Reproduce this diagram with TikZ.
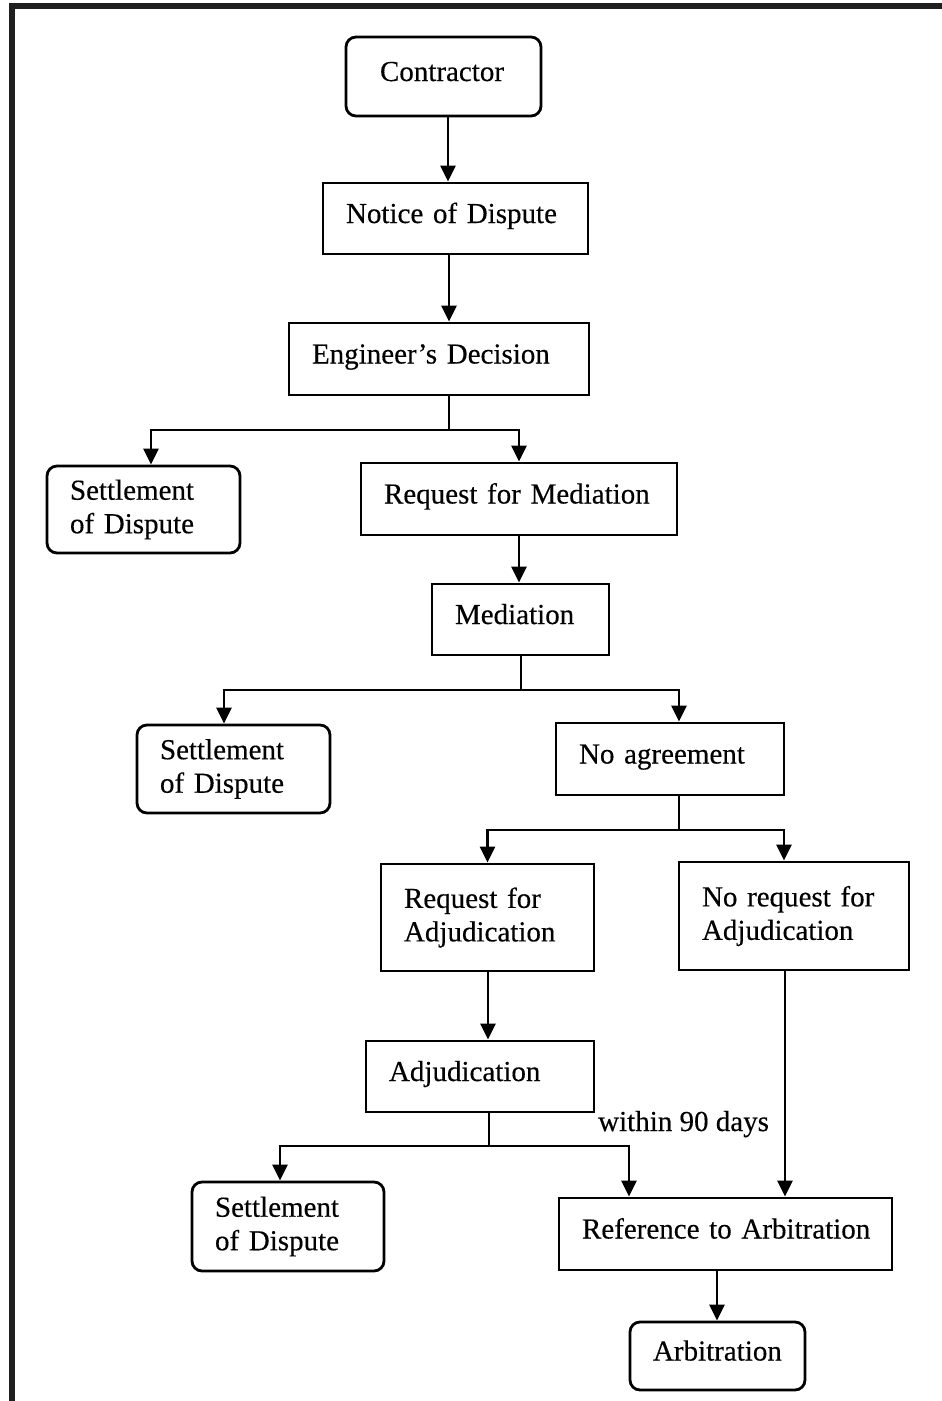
\documentclass[tikz,border=0pt]{standalone}
\usepackage{fontspec}
\setmainfont{Liberation Serif}
\newfontfamily\scanfont{Liberation Serif}[FakeBold=0.35]
\usetikzlibrary{arrows.meta}
\begin{document}
\begin{tikzpicture}[x=1pt,y=-1pt,
  box/.style={draw=black, line width=2.8pt, inner ysep=0pt, inner xsep=23pt, align=left, font=\scanfont\fontsize{29}{33.5}\selectfont},
  one/.style={text height=19pt, text depth=10pt},
  rbox/.style={box, rounded corners=10pt},
  ln/.style={line width=2.8pt},
  arr/.style={line width=2.8pt, -{Triangle[length=16pt,width=15pt]}},
  lbl/.style={font=\scanfont\fontsize{29}{33.5}\selectfont, inner sep=0pt}
]
\useasboundingbox (0,0) rectangle (942,1401);
\fill[black!88] (9,3) rectangle (942,9);
\fill[black!88] (9,3) rectangle (15,1401);

\node[rbox, one, inner xsep=34pt, text width=127pt, minimum height=79pt] (contractor) at (443.5,76.5) {\mbox{Contractor}};
\node[box, one, text width=219pt, minimum height=71pt] (notice) at (455.5,218.5) {\mbox{Notice of Dispute}};
\node[box, one, text width=254pt, minimum height=72pt] (eng) at (439,359) {\mbox{Engineer’s Decision}};
\node[rbox, text width=147pt, minimum height=87pt] (set1) at (143.5,509.5) {Settlement\\of Dispute};
\node[box, one, text width=270pt, minimum height=72pt] (rfm) at (519,499) {\mbox{Request for Mediation}};
\node[box, one, text width=131pt, minimum height=71pt] (med) at (520.5,619.5) {\mbox{Mediation}};
\node[rbox, text width=147pt, minimum height=88pt] (set2) at (233.5,769) {Settlement\\of Dispute};
\node[box, one, text width=182pt, minimum height=72pt] (noagr) at (670,759) {\mbox{No agreement}};
\node[box, text width=167pt, minimum height=107pt] (rfa) at (487.5,917.5) {Request for\\Adjudication};
\node[box, text width=184pt, minimum height=108pt] (nra) at (794,916) {No request for\\Adjudication};
\node[box, one, text width=182pt, minimum height=71pt] (adj) at (480,1076.5) {\mbox{Adjudication}};
\node[rbox, text width=146pt, minimum height=89pt] (set3) at (288,1226.5) {Settlement\\of Dispute};
\node[box, one, text width=287pt, minimum height=72pt] (ref) at (725.5,1234) {\mbox{Reference to Arbitration}};
\node[rbox, one, text width=129pt, minimum height=68pt] (arb) at (717.5,1356) {\mbox{Arbitration}};
\node[lbl, anchor=base west] (within) at (598,1131) {within 90 days};

% columns and junctions
\coordinate (c1) at (448,0);
\coordinate (j1) at (449,430);
\coordinate (c2) at (519,0);
\coordinate (j2) at (521,690);
\coordinate (j3) at (679,830);
\coordinate (c3) at (488,0);
\coordinate (j4) at (489,1146);
\coordinate (c4) at (785,0);
\coordinate (c5) at (717,0);

\draw[arr] (contractor.south -| c1) -- (notice.north -| c1);
\draw[arr] (notice.south -| j1) -- (eng.north -| j1);
\draw[ln] (eng.south -| j1) -- (j1);
\draw[arr] (j1) -| ([xshift=7.5pt]set1.north);
\draw[arr] (j1) -| (rfm.north);
\draw[arr] (rfm.south -| c2) -- (med.north -| c2);
\draw[ln] (med.south -| j2) -- (j2);
\draw[arr] (j2) -| ([xshift=-9.5pt]set2.north);
\draw[arr] (j2) -| ([xshift=9pt]noagr.north);
\draw[ln] (noagr.south -| j3) -- (j3);
\draw[arr] (j3) -| (rfa.north);
\draw[arr] (j3) -| ([xshift=-10pt]nra.north);
\draw[arr] (rfa.south -| c3) -- (adj.north -| c3);
\draw[ln] (adj.south -| j4) -- (j4);
\draw[arr] (j4) -| ([xshift=-8pt]set3.north);
\draw[arr] (j4) -| ([xshift=-96.5pt]ref.north);
\draw[arr] (nra.south -| c4) -- (ref.north -| c4);
\draw[arr] (ref.south -| c5) -- (arb.north -| c5);
\end{tikzpicture}
\end{document}
